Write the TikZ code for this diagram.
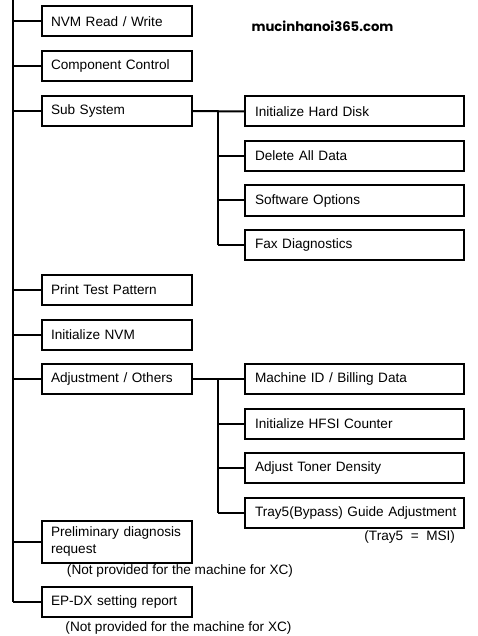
\documentclass[tikz,border=0pt]{standalone}
\usepackage{fontspec}
\setmainfont{Liberation Sans}
\newfontfamily\markfont{Poppins}
\usetikzlibrary{positioning}

\begin{document}
\begin{tikzpicture}[x=1pt, y=1pt, line width=2pt, font=\fontsize{13.6}{16.3}\selectfont,
  main box/.style={draw, anchor=west, minimum height=30pt, inner xsep=9pt, text width=132pt, align=left},
  sub box/.style={draw, anchor=west, minimum height=30pt, inner xsep=10pt, text width=199pt, align=left},
  note/.style={inner sep=0pt}]

\useasboundingbox (0,0) rectangle (478,-636);

\node[main box](m1) at (41,-21.5) {NVM Read / Write};
\node[main box](m2) at (41,-66) {Component Control};
\node[main box](m3) at (41,-111) {Sub System};
\node[main box](m4) at (41,-290) {Print Test Pattern};
\node[main box](m5) at (41,-334.5) {Initialize NVM};
\node[main box](m6) at (41,-379) {Adjustment / Others};
\node[main box, minimum height=42pt](m7) at (41,-541.5) {Preliminary diagnosis\\request};
\node[main box](m8) at (41,-602) {EP-DX setting report};

\node[sub box](s1) at (244,-111.5) {Initialize Hard Disk};
\node[sub box](s2) at (244,-156) {Delete All Data};
\node[sub box](s3) at (244,-200.5) {Software Options};
\node[sub box](s4) at (244,-245) {Fax Diagnostics};

\node[sub box](a1) at (244,-379) {Machine ID / Billing Data};
\node[sub box](a2) at (244,-423.5) {Initialize HFSI Counter};
\node[sub box](a3) at (244,-468) {Adjust Toner Density};
\node[sub box](a4) at (244,-512.5) {\mbox{Tray5(Bypass) Guide Adjustment}};

\node[note, anchor=east](n1) at (456,-537) {(Tray5 \ = \ MSI)};
\node[note](n2) at (180,-571) {(Not provided for the machine for XC)};
\node[note](n3) at (178.5,-628) {(Not provided for the machine for XC)};

\node[note](mark) at (322.5,-26) {\markfont\bfseries\fontsize{13.2}{15}\selectfont mucinhanoi365.com};

% main trunk
\coordinate (top) at (13,0);
\draw (top) -- (top |- m8.west);
\foreach \n in {m1,m2,m3,m4,m5,m6,m7,m8}
  \draw (top |- \n.west) -- (\n.west);

% sub system branch
\coordinate (j1) at (218,-111);
\draw (m3.east) -- (s1.west);
\draw (j1) -- (j1 |- s4.west);
\foreach \n in {s2,s3,s4}
  \draw (j1 |- \n.west) -- (\n.west);

% adjustment branch
\coordinate (j2) at (218,-379);
\draw (m6.east) -- (a1.west);
\draw (j2) -- (j2 |- a4.west);
\foreach \n in {a2,a3,a4}
  \draw (j2 |- \n.west) -- (\n.west);

\end{tikzpicture}
\end{document}
